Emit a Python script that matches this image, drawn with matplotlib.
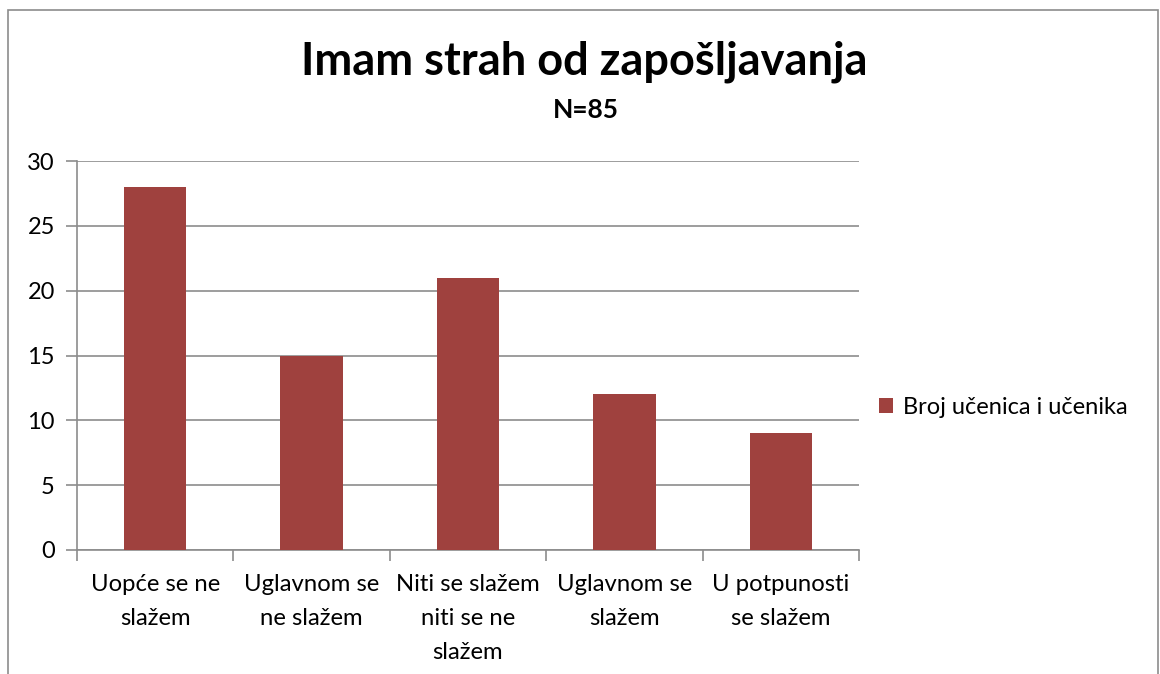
import matplotlib
matplotlib.use("Agg")
import matplotlib.pyplot as plt
from matplotlib.patches import Rectangle

categories = ["Uopće se ne\nslažem", "Uglavnom se\nne slažem", "Niti se slažem\nniti se ne\nslažem",
              "Uglavnom se\nslažem", "U potpunosti\nse slažem"]
values = [28, 15, 21, 12, 9]
series_name = "Broj učenica i učenika"
title = "Imam strah od zapošljavanja"
subtitle = "N=85"
yticks = [0, 5, 10, 15, 20, 25, 30]

plt.rcParams['font.family'] = ['Lato', 'DejaVu Sans']

W, H = 1160, 674
fig = plt.figure(figsize=(W / 100, H / 100), dpi=100)
bar_color = "#9F413E"
grid_color = "#8C8C8C"

# chart border
fig.patches.append(Rectangle((8 / W, -0.05), (1158 - 8) / W, (H - 10) / H + 0.05,
                             transform=fig.transFigure, fill=False, edgecolor="#8C8C8C", lw=1.2))

left, right, top, bottom = 77, 859, 161, 550
ax = fig.add_axes([left / W, 1 - bottom / H, (right - left) / W, (bottom - top) / H])

x = list(range(len(values)))
ax.bar(x, values, width=0.4, color=bar_color, label=series_name, zorder=3)
ax.set_xlim(-0.5, len(values) - 0.5)
ax.set_ylim(0, 30)
ax.set_yticks(yticks)
ax.set_yticklabels([str(t) for t in yticks], fontsize=17)
ax.yaxis.grid(True, color=grid_color, lw=1.2, zorder=0)
ax.set_axisbelow(True)

ax.set_xticks([i - 0.5 for i in range(len(values) + 1)])
ax.set_xticklabels([])
ax.set_xticks(x, minor=True)
ax.set_xticklabels(categories, minor=True, fontsize=17.2, linespacing=1.78, va='top')
ax.tick_params(axis='x', which='minor', length=0, pad=17)
ax.tick_params(axis='x', which='major', length=8, color=grid_color, width=1.2)
ax.tick_params(axis='y', length=8, color=grid_color, width=1.2, pad=8)

for s in ['top', 'right']:
    ax.spines[s].set_visible(False)
for s in ['left', 'bottom']:
    ax.spines[s].set_color(grid_color)
    ax.spines[s].set_linewidth(1.2)

fig.text(584 / W, 1 - 62 / H, title, ha='center', va='center', fontsize=32.5, fontweight='bold')
fig.text(586 / W, 1 - 110 / H, subtitle, ha='center', va='center', fontsize=19, fontweight='bold')

leg = fig.legend(loc='center left', bbox_to_anchor=(858 / W, 1 - 407 / H), frameon=False,
                 fontsize=17, handlelength=0.6, handleheight=0.6, handletextpad=0.4)

fig.savefig("out.png", dpi=100)
